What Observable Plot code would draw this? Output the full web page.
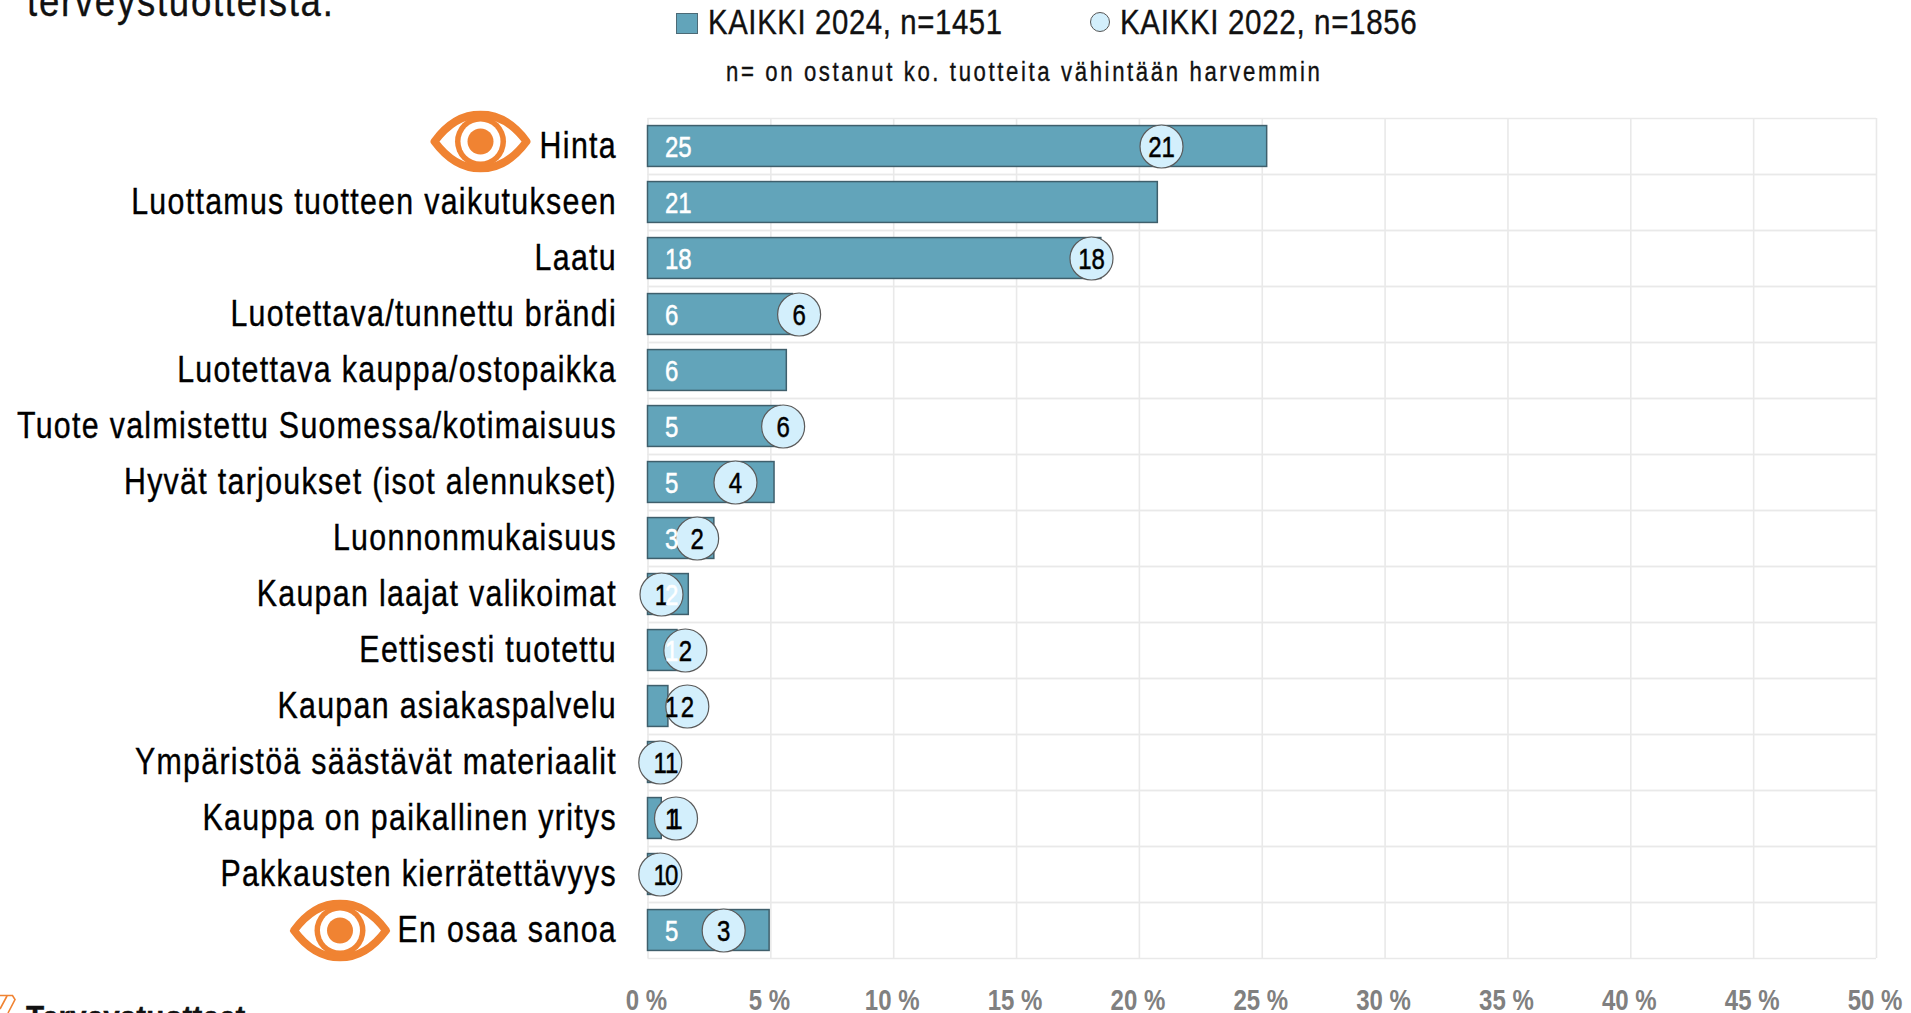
<!DOCTYPE html>
<html lang="fi">
<head>
<meta charset="utf-8">
<script src="https://cdn.jsdelivr.net/npm/d3@7"></script>
<script src="https://cdn.jsdelivr.net/npm/@observablehq/plot@0.6"></script>
<style>
html,body{margin:0;padding:0;background:#fff;width:1911px;height:1013px;overflow:hidden}
body{position:relative;font-family:"Liberation Sans",sans-serif;color:#111}
.t{position:absolute;white-space:nowrap;line-height:1;transform-origin:0 50%;-webkit-text-stroke:.35px #111}
svg{position:absolute;left:0;top:0}
</style>
</head>
<body>
<div id="chart"></div>
<div class="t" style="left:27px;top:-19px;font-size:42px;letter-spacing:2px;transform:scaleX(.87)">terveystuotteista.</div>
<div class="t" style="left:676px;top:13px;width:22px;height:21px;background:#62a4ba;border:1.5px solid #4c6a76;box-sizing:border-box"></div>
<div class="t" id="leg24" style="left:708px;top:5px;font-size:34.5px;letter-spacing:.73px;transform:scaleX(.85)"></div>
<div class="t" style="left:1090px;top:12px;width:20px;height:20px;border-radius:50%;background:#d3effc;border:1px solid #555;box-sizing:border-box"></div>
<div class="t" id="leg22" style="left:1120px;top:5px;font-size:34.5px;letter-spacing:.73px;transform:scaleX(.858)"></div>
<div class="t" style="left:726px;top:59px;font-size:27px;letter-spacing:3.2px;transform:scaleX(.82)">n= on ostanut ko. tuotteita vähintään harvemmin</div>
<svg style="left:0;top:0;pointer-events:none" width="20" height="1013"><path d="M0 995.5 H12.5 L15 999.5 L8 1013 M0 1009 L7 996" fill="none" stroke="#f08332" stroke-width="1.6"/></svg>
<div class="t" style="left:26px;top:1001px;font-size:32px;font-weight:bold;transform:scaleX(.93)">Terveystuotteet</div>
<script>
const categories = ["Hinta","Luottamus tuotteen vaikutukseen","Laatu","Luotettava/tunnettu brändi","Luotettava kauppa/ostopaikka","Tuote valmistettu Suomessa/kotimaisuus","Hyvät tarjoukset (isot alennukset)","Luonnonmukaisuus","Kaupan laajat valikoimat","Eettisesti tuotettu","Kaupan asiakaspalvelu","Ympäristöä säästävät materiaalit","Kauppa on paikallinen yritys","Pakkausten kierrätettävyys","En osaa sanoa"];
const values2024 = [25.2,20.75,18.45,5.9,5.65,5.4,5.15,2.7,1.66,1.2,0.83,0.7,0.56,0.4,4.95];
const values2022 = [20.9,null,18.05,6.15,null,5.5,3.56,2.0,0.55,1.52,1.6,0.5,1.14,0.5,3.08];
const xTicks = [0,5,10,15,20,25,30,35,40,45,50];
const eyeRows = ["Hinta"];
const eyeRows2 = ["En osaa sanoa"];
const series2024 = "KAIKKI 2024, n=1451";
const series2022 = "KAIKKI 2022, n=1856";
document.getElementById("leg24").textContent = series2024;
document.getElementById("leg22").textContent = series2022;

const rows = categories.map((c,i)=>({c,v24:values2024[i],v22:values2022[i]}));
const rows22 = rows.filter(d=>d.v22!=null);

const ORANGE="#f08332";
const eyeSvg = `<svg xmlns="http://www.w3.org/2000/svg" viewBox="0 0 104 62" width="104" height="62"><path d="M6 31 C20 12 36 4 52 4 C68 4 84 12 98 31 C84 50 68 58 52 58 C36 58 20 50 6 31Z" fill="#fff" stroke="${ORANGE}" stroke-width="8" stroke-linejoin="round"/><circle cx="52" cy="31" r="25.5" fill="${ORANGE}"/><circle cx="52" cy="31" r="20" fill="#fff"/><circle cx="52" cy="31" r="13" fill="${ORANGE}"/></svg>`;
const eyeUri = "data:image/svg+xml;utf8,"+encodeURIComponent(eyeSvg);

const GRID="#e9e9e9";
const plot = Plot.plot({
  width:1911,height:1013,
  marginLeft:647.5,marginRight:35,marginTop:118,marginBottom:55,
  style:{fontFamily:"'Liberation Sans',sans-serif",background:"transparent",overflow:"visible"},
  x:{domain:[0,50]},
  y:{domain:categories,paddingInner:0.27,paddingOuter:0.135,align:0.5,round:false},
  marks:[
    Plot.ruleX(xTicks,{x:d=>d,stroke:GRID,strokeWidth:1.6,strokeOpacity:1}),
    Plot.tickY(categories,{y:d=>d,dy:-28,stroke:GRID,strokeWidth:1.6}),
    Plot.tickY(categories,{y:d=>d,dy:28,stroke:GRID,strokeWidth:1.6}),
    Plot.barX(rows,{x1:0,x2:"v24",y:"c",fill:"#62a4ba",stroke:"#3f5f6c",strokeWidth:1.5}),
    Plot.dot(rows22,{x:"v22",y:"c",r:21.5,fill:"#d3effc",stroke:"#5a5a5a",strokeWidth:1.2}),
    Plot.text(rows22,{x:"v22",y:"c",text:d=>String(Math.round(d.v22)),fill:"#000",fontSize:30,dy:1}),
    Plot.text(rows,{x:0,y:"c",text:d=>String(Math.round(d.v24)),fill:d=>d.v24<1?"#000":"#fff",fontSize:30,textAnchor:"start",dx:17,dy:1}),
    Plot.image(eyeRows,{x:0,y:d=>d,src:()=>eyeUri,width:104,height:62,dx:-167.5,dy:-5}),
    Plot.image(eyeRows2,{x:0,y:d=>d,src:()=>eyeUri,width:104,height:62,dx:-308,dy:0}),
    Plot.axisX({ticks:xTicks,tickFormat:d=>`${d} %`,tickSize:0,tickPadding:30,fontSize:30,fontWeight:"bold",color:"#808080",label:null,textStroke:"none",dx:-1.5}),
    Plot.axisY({tickSize:0,tickPadding:31,fontSize:37,color:"#000",label:null,textOverflow:null,lineWidth:Infinity,marginLeft:647.5})
  ]
});
plot.querySelectorAll("text").forEach(t=>{
  const host=t.closest("[font-size]");
  const fs=host?host.getAttribute("font-size"):null;
  t.setAttribute("transform",(t.getAttribute("transform")||"")+(fs==="37"?" scale(.82,1)":" scale(.8,1)"));
  if(fs==="37"){ t.style.letterSpacing="1.6px"; t.style.stroke="#000"; t.style.strokeWidth=".4px"; }
  if(fs==="30" && !t.closest('[font-weight]')){ t.setAttribute("stroke",t.getAttribute("fill")||"#000"); t.style.strokeWidth=".5px"; }
});
document.getElementById("chart").append(plot);
</script>
</body>
</html>
